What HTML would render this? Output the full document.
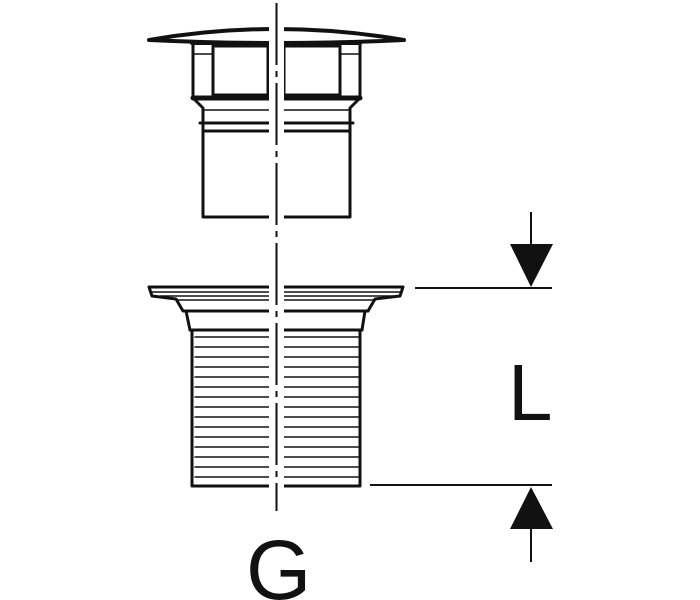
<!DOCTYPE html>
<html><head><style>html,body{margin:0;padding:0;background:#fff}svg{display:block}</style></head>
<body>
<svg width="700" height="600" viewBox="0 0 700 600" xmlns="http://www.w3.org/2000/svg">
<g fill="none" stroke="#111" stroke-width="3" stroke-linejoin="round" stroke-linecap="round">
<!-- cap -->
<path d="M149,40 Q276,18 404,40 Q276,46 149,40 Z" stroke-width="4"/>
<line x1="192" y1="43" x2="360" y2="43" stroke-width="4"/>
<!-- upper block -->
<path d="M193,43 L193,98 L203,108 L203,217 L350,217 L350,108 L360,98 L360,43"/>
<line x1="193" y1="98" x2="360" y2="98" stroke-width="5"/>
<rect x="213" y="46" width="55" height="49" stroke-width="3"/>
<rect x="284" y="46" width="56" height="49" stroke-width="3"/>
<line x1="193" y1="54" x2="212" y2="54" stroke-width="1.5"/>
<line x1="341" y1="54" x2="360" y2="54" stroke-width="1.5"/>
<line x1="203" y1="110" x2="350" y2="110" stroke-width="1.5"/>
<line x1="200" y1="123" x2="353" y2="123" stroke-width="3"/>
<line x1="203" y1="131" x2="350" y2="131" stroke-width="3"/>
<!-- lower flange -->
<path d="M149,287 L403,287 L400,296 L375,299 L368,311 L365,311 L362,330 L360,330 L360,486 L192,486 L192,330 L190,330 L186,311 L183,311 L176,299 L152,296 Z"/>
<line x1="152" y1="292" x2="400" y2="292" stroke-width="1.5"/>
<line x1="160" y1="296" x2="393" y2="296" stroke-width="1.5"/>
<line x1="176" y1="300" x2="375" y2="300" stroke-width="1.5"/>
<line x1="184" y1="311" x2="368" y2="311" stroke-width="3"/>
<line x1="190" y1="330" x2="362" y2="330" stroke-width="3"/>
<g stroke-width="1.5">
<line x1="195" y1="337" x2="358" y2="337"/><line x1="195" y1="347" x2="358" y2="347"/>
<line x1="195" y1="357" x2="358" y2="357"/><line x1="195" y1="367" x2="358" y2="367"/>
<line x1="195" y1="377" x2="358" y2="377"/><line x1="195" y1="387" x2="358" y2="387"/>
<line x1="195" y1="397" x2="358" y2="397"/><line x1="195" y1="407" x2="358" y2="407"/>
<line x1="195" y1="417" x2="358" y2="417"/><line x1="195" y1="427" x2="358" y2="427"/>
<line x1="195" y1="437" x2="358" y2="437"/><line x1="195" y1="447" x2="358" y2="447"/>
<line x1="195" y1="457" x2="358" y2="457"/><line x1="195" y1="467" x2="358" y2="467"/>
<line x1="195" y1="477" x2="358" y2="477"/>
</g>
</g>
<!-- gap strip -->
<rect x="269" y="20" width="15" height="480" fill="#fff"/>
<!-- centerline -->
<line x1="276.5" y1="3" x2="276.5" y2="511" stroke="#111" stroke-width="2" stroke-dasharray="62 6 6 6"/>
<!-- dimensions -->
<g stroke="#111" stroke-width="2">
<line x1="415" y1="288" x2="552" y2="288"/>
<line x1="370" y1="485" x2="552" y2="485"/>
<line x1="531" y1="212" x2="531" y2="250"/>
<line x1="531" y1="525" x2="531" y2="562"/>
</g>
<polygon points="510,244 553,244 531,287" fill="#111"/>
<polygon points="510,529 553,529 531,487" fill="#111"/>
<text x="508" y="420" font-family="Liberation Sans, sans-serif" font-size="80" fill="#111">L</text>
<text x="246" y="599" font-family="Liberation Sans, sans-serif" font-size="84" fill="#111">G</text>
</svg>
</body></html>
